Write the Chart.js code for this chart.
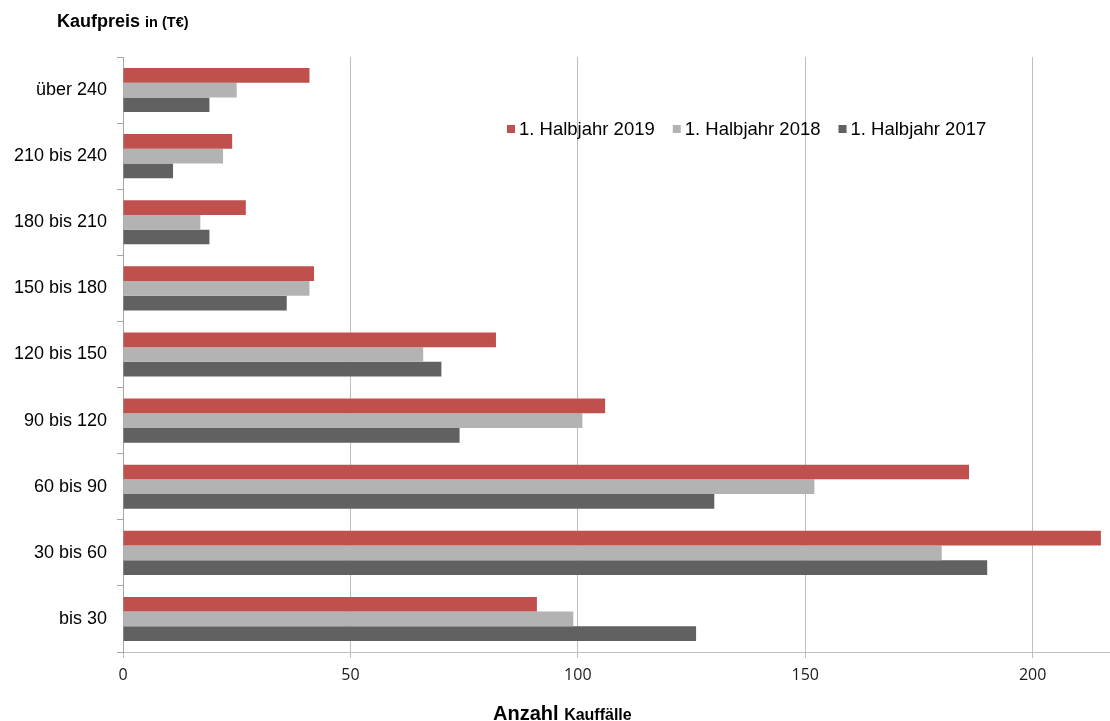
<!DOCTYPE html>
<html lang="de">
<head>
<meta charset="utf-8">
<title>Kaufpreis Kauffälle</title>
<script src="https://cdn.jsdelivr.net/npm/chart.js@4.4.1/dist/chart.umd.min.js"></script>
<style>
  html, body { margin: 0; padding: 0; background: #fff; }
  #wrap { position: relative; width: 1110px; height: 721px; }
  #chart { position: absolute; left: 0; top: 0; }
  .axis-title {
    position: absolute;
    font-family: "Liberation Sans", Arial, sans-serif;
    font-weight: bold;
    color: #000;
    white-space: nowrap;
    line-height: 1.15;
  }
</style>
</head>
<body>
<div id="wrap">
  <canvas id="chart" width="1110" height="721"></canvas>
  <div class="axis-title" style="left:57px; top:11px; font-size:18px;">Kaufpreis <span style="font-size:14.5px;">in (T€)</span></div>
  <div class="axis-title" style="left:493px; top:702px; font-size:20px;">Anzahl <span style="font-size:16px;">Kauffälle</span></div>
</div>
<script>
// price bands, highest first (top of the chart)
const categories = ["über 240", "210 bis 240", "180 bis 210", "150 bis 180", "120 bis 150",
                    "90 bis 120", "60 bis 90", "30 bis 60", "bis 30"];
const seriesNames = ["1. Halbjahr 2019", "1. Halbjahr 2018", "1. Halbjahr 2017"];
const values2019 = [41, 24, 27, 42, 82, 106, 186, 215, 91];
const values2018 = [25, 22, 17, 41, 66, 101, 152, 180, 99];
const values2017 = [19, 11, 19, 36, 70, 74, 130, 190, 126];
const xTicks = [0, 50, 100, 150, 200];

const COLORS = ["#C0504D", "#B3B3B3", "#616161"];
const LABEL_FONT = "'Liberation Sans', Arial, sans-serif";

// legend drawn inside the plot area, one row
const inlineLegend = {
  id: "inlineLegend",
  afterDraw(chart) {
    const ctx = chart.ctx;
    let x = 507;
    const y = 129;
    ctx.save();
    ctx.font = "18.5px " + LABEL_FONT;
    ctx.textBaseline = "middle";
    chart.data.datasets.forEach((ds) => {
      ctx.fillStyle = ds.backgroundColor;
      ctx.fillRect(x, y - 4, 8, 8);
      ctx.fillStyle = "#000";
      ctx.fillText(ds.label, x + 12, y + 1);
      x += 12 + ctx.measureText(ds.label).width + 18;
    });
    ctx.restore();
  },
};

new Chart(document.getElementById("chart"), {
  type: "bar",
  data: {
    labels: categories,
    datasets: [values2019, values2018, values2017].map((data, i) => ({
      label: seriesNames[i],
      data,
      backgroundColor: COLORS[i],
      borderWidth: 0,
      categoryPercentage: 0.667,
      barPercentage: 1,
    })),
  },
  options: {
    indexAxis: "y",
    responsive: false,
    animation: false,
    layout: { padding: { top: 57, left: 0, right: 0, bottom: 0 } },
    plugins: {
      legend: { display: false },
      tooltip: { enabled: false },
    },
    scales: {
      x: {
        type: "linear",
        min: 0,
        max: 217,
        afterBuildTicks: (scale) => { scale.ticks = xTicks.map((v) => ({ value: v })); },
        afterFit: (scale) => { scale.height = 69; },
        ticks: {
          font: { family: "'Open Sans', sans-serif", size: 16 },
          color: "#1a1a1a",
          padding: 8,
        },
        grid: { color: "#BEBEBE", tickLength: 6 },
        border: { color: "#BEBEBE" },
      },
      y: {
        afterFit: (scale) => { scale.width = 123; },
        ticks: {
          font: { family: LABEL_FONT, size: 18 },
          color: "#000",
          padding: 10,
        },
        grid: { drawOnChartArea: false, color: "#A6A6A6", tickLength: 6, offset: true },
        border: { color: "#A6A6A6" },
      },
    },
  },
  plugins: [inlineLegend],
});
</script>
</body>
</html>
